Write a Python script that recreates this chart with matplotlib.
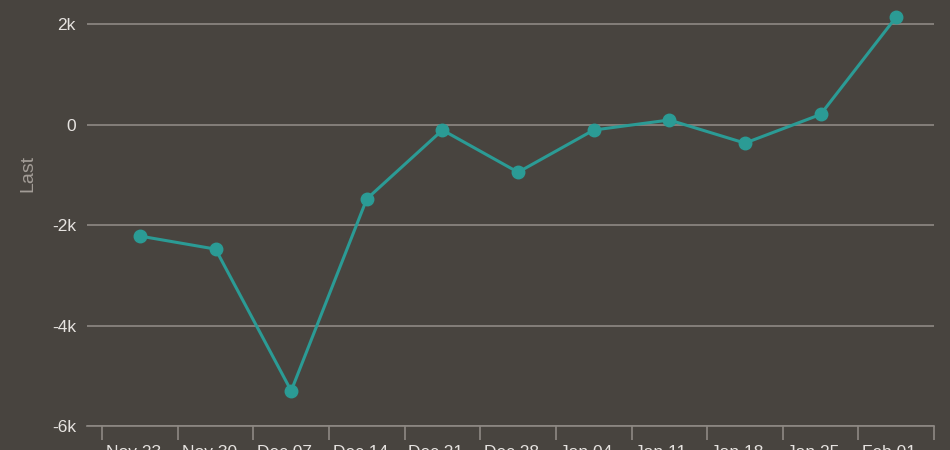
import matplotlib.pyplot as plt
import numpy as np

plt.rcParams['font.family'] = ['Liberation Sans', 'DejaVu Sans']

weeks = ["Nov 23", "Nov 30", "Dec 07", "Dec 14", "Dec 21", "Dec 28",
         "Jan 04", "Jan 11", "Jan 18", "Jan 25", "Feb 01"]
last = [-2220, -2480, -5300, -1480, -110, -950, -110, 90, -370, 200, 2140]
yticks = [-6000, -4000, -2000, 0, 2000]
ytick_labels = ["-6k", "-4k", "-2k", "0", "2k"]

bg = "#48443f"
grid_c = "#8e8984"
teal = "#2b9b95"

fig = plt.figure(figsize=(9.5, 4.5), dpi=100, facecolor=bg)
ax = fig.add_axes([87 / 950, 1 - 426 / 450, 847 / 950, 426 / 450])
ax.set_facecolor(bg)

x = np.arange(len(weeks))
ax.plot(x, last, color=teal, lw=2.2, marker="o", ms=9, zorder=3)

ax.set_xlim(-0.7, len(weeks) - 0.5)
ax.set_ylim(-6000, 2478)

ax.set_yticks(yticks)
ax.set_yticklabels(ytick_labels)
ax.grid(axis="y", color=grid_c, lw=1.2)
ax.tick_params(axis="y", length=0, pad=8, labelsize=12.5, colors="#e6e3e0")

# labels sit just right of each band's left edge
ax.set_xticks(x - 0.45)
ax.set_xticklabels(weeks, ha="left")
ax.set_xticks(np.arange(len(weeks) + 1) - 0.5, minor=True)
ax.tick_params(axis="x", which="major", length=0, pad=14, labelsize=12.5, colors="#e6e3e0")
ax.tick_params(axis="x", which="minor", length=10, width=1.2, color=grid_c)

for s in ["top", "right", "left"]:
    ax.spines[s].set_visible(False)
ax.spines["bottom"].set_color(grid_c)
ax.spines["bottom"].set_linewidth(1.2)

ax.set_ylabel("Last", color="#a39d97", fontsize=14)
ax.yaxis.set_label_coords(-0.060, 0.593)

fig.savefig("out.png", dpi=100, facecolor=bg)
